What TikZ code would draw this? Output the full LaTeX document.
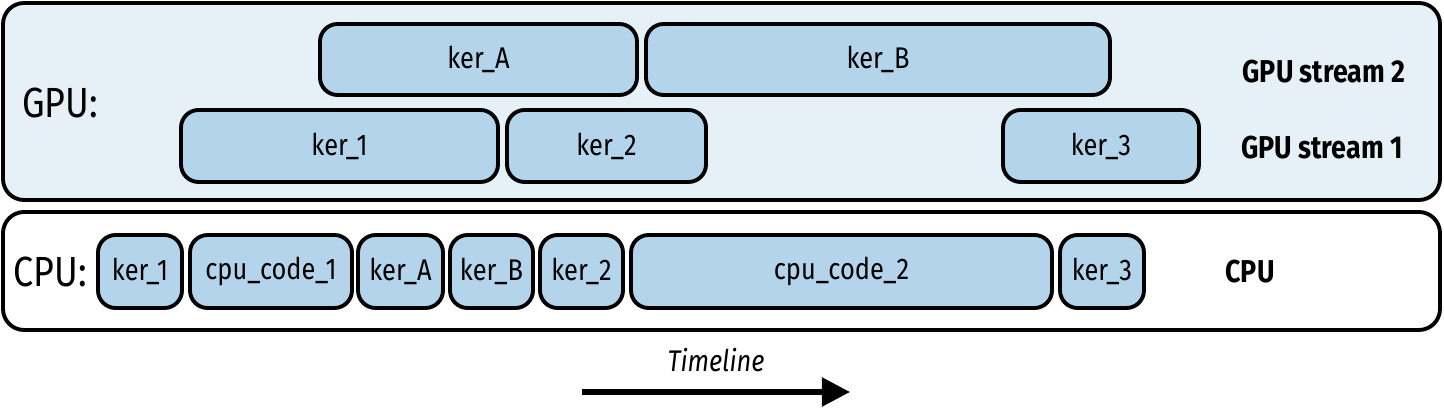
\documentclass[tikz,border=0pt]{standalone}
\usepackage{fontspec}
\setmainfont{Fira Sans}[FakeStretch=0.85]
\usetikzlibrary{arrows.meta}
\definecolor{lanebg}{HTML}{E6F0F7}
\definecolor{kerfill}{HTML}{B3D4EA}
\tikzset{
  lane/.style={draw=black, line width=2.2pt, rounded corners=12pt},
  ker/.style={draw=black, fill=kerfill, line width=2.2pt, rounded corners=10pt,
    inner sep=0pt, font=\fontsize{17}{20}\selectfont},
  tag/.style={font=\fontsize{18}{22}\selectfont\bfseries},
}
% box from x1 to x2 (px), row top y1 to y2
\newcommand{\kerbox}[6][]{%
  \node[ker, minimum width=(#4-#3)*0.02cm, minimum height=(#6-#5)*0.02cm, #1]
    (#2) at ({(#3+#4)/2*0.02},{-(#5+#6)/2*0.02}) {\strut};}
\begin{document}
\begin{tikzpicture}[x=0.02cm, y=-0.02cm]
  \useasboundingbox (0,0) rectangle (1444,408);
  \draw[lane, fill=lanebg] (3,3) rectangle (1440,200);
  \draw[lane, fill=white] (3,212) rectangle (1440,330);

  % GPU stream 2
  \node[ker, minimum width=317*0.02cm, minimum height=71*0.02cm] (gA) at (478.5,59.5) {ker\_A};
  \node[ker, minimum width=464*0.02cm, minimum height=71*0.02cm] (gB) at (878,59.5) {ker\_B};
  % GPU stream 1
  \node[ker, minimum width=317*0.02cm, minimum height=72*0.02cm] (g1) at (339.5,146) {ker\_1};
  \node[ker, minimum width=199*0.02cm, minimum height=72*0.02cm] (g2) at (606.5,146) {ker\_2};
  \node[ker, minimum width=196*0.02cm, minimum height=72*0.02cm] (g3) at (1101,146) {ker\_3};
  % CPU
  \foreach \lbl/\xa/\xb [count=\i] in {ker\_1/98/182, cpu\_code\_1/190/352, ker\_A/358/443,
      ker\_B/450/533, ker\_2/540/623, cpu\_code\_2/631/1052, ker\_3/1060/1144}
    \node[ker, minimum width={(\xb-\xa)*0.02cm}, minimum height=73*0.02cm]
      (c\i) at ({(\xa+\xb)/2},271.5) {\lbl};

  \node[tag, font=\fontsize{24}{28}\selectfont] (gpu) at (60,103) {GPU:};
  \node[tag] (s2) at (1324,72) {GPU stream 2};
  \node[tag] (s1) at (1322,148) {GPU stream 1};
  \node[tag, font=\fontsize{24}{28}\selectfont] (cpu) at (50,272) {CPU:};
  \node[tag] (cpul) at (1250,272) {CPU};

  \node[font=\fontsize{17}{20}\selectfont\itshape] (tl) at (716,360) {Timeline};
  \coordinate (t0) at (582,392);
  \coordinate (t1) at (850,392);
  \draw[line width=3pt, -{Triangle[length=16pt, width=16pt]}] (t0) -- (t1);
\end{tikzpicture}
\end{document}
